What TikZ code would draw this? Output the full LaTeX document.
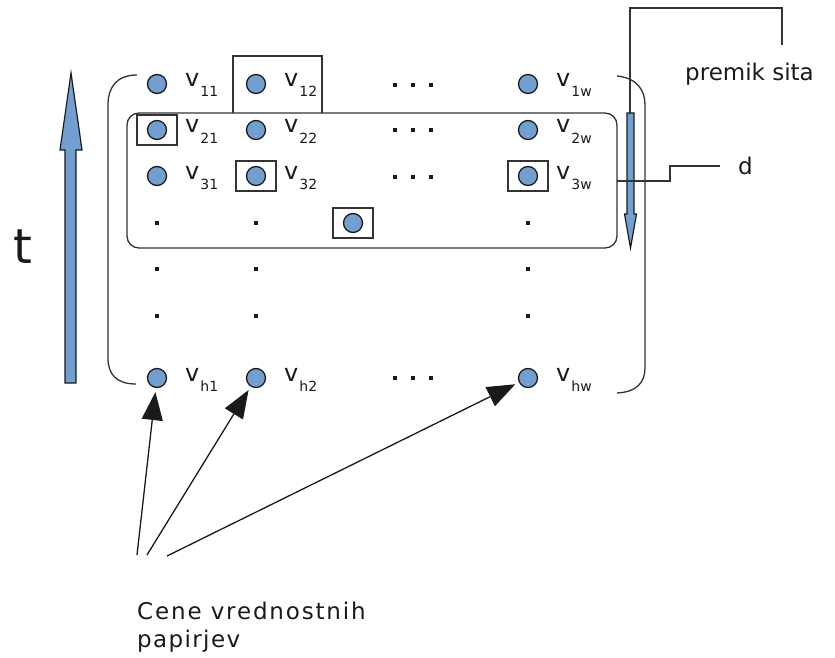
\documentclass[tikz,border=0pt]{standalone}
\usepackage{fontspec}
\setmainfont{DejaVu Sans}
\usetikzlibrary{arrows.meta}
\definecolor{ptblue}{HTML}{729FCF}
\definecolor{ink}{HTML}{1A1A1A}
\definecolor{frame}{HTML}{333333}

% variable name with a small index
\newcommand\vsub[1]{v\kern1pt\raisebox{-10pt}{\fontsize{14}{14}\selectfont #1}}

\begin{document}
\begin{tikzpicture}[x=1pt,y=-1pt,
  pt/.style={circle,draw=ink,fill=ptblue,line width=1.3pt,minimum size=19pt,inner sep=0pt},
  lab/.style={anchor=base west,inner sep=0pt,font=\fontsize{24}{26}\selectfont,text=ink},
  sq/.style={fill=ink,minimum size=4.5pt,inner sep=0pt},
  line/.style={draw=frame,line width=1.3pt},
  selbox/.style={line},
  blueshape/.style={draw=ink,fill=ptblue,line width=1.2pt,line join=miter},
  pointer/.style={draw=ink,line width=1.3pt,-{Triangle[length=28pt,width=21pt]},shorten >=4pt},
  txt/.style={inner sep=0pt,text=ink,font=\fontsize{23}{28}\selectfont}]
\useasboundingbox (0,0) rectangle (835,658);

% ---- matrix brackets
\draw[line] (137,75) .. controls (116,75) and (108,88) .. (108,105) -- (108,358)
  .. controls (108,374) and (116,384) .. (136,384);
\draw[line] (617,76) .. controls (637,78) and (645,90) .. (645,105) -- (645,368)
  .. controls (645,382) and (637,392) .. (617,393);

% ---- sliding window
\node[line,rounded corners=12pt,minimum width=490pt,minimum height=135pt,inner sep=0pt]
  (win) at (372,180.5) {};
\draw[line] (233,113) |- (322,56) -- (322,113);

% ---- matrix entries
\foreach \n/\x/\y in {11/157/84, 12/256/84, 1w/528/84,
                      21/157/130, 22/256/130, 2w/528/130,
                      31/157/176, 32/256/176, 3w/528/176,
                      h1/157/378, h2/256/378, hw/528/378}
  {\node[pt] (c\n) at (\x,\y) {};
   \node[lab] (l\n) at ([shift={(28,3)}]c\n.center) {\vsub{\n}};}
\node[pt] (cmid) at (353,223) {};

% ---- selected entries
\foreach \c in {c21,c32,c3w,cmid}
  \draw[selbox] ([shift={(-20,-15)}]\c.center) rectangle ([shift={(20,15)}]\c.center);

% ---- horizontal ellipses
\foreach \y [count=\i] in {85,130,177,378}
  \foreach \x [count=\j] in {395,413,431}
    \node[sq] (h\i\j) at (\x,\y) {};

% ---- vertical ellipses
\foreach \x [count=\j] in {157,256,528}
  \foreach \y [count=\i] in {223,269,316}
    \node[sq] (d\i\j) at (\x,\y) {};

% ---- time axis
\draw[blueshape] (65,383) -- (65,150) -- (60,150) -- (71,73) -- (82,150) -- (76,150)
  -- (76,383) -- cycle;
\node[inner sep=0pt,anchor=base west,text=ink,font=\fontsize{48}{50}\selectfont] (t) at (13,263) {t};

% ---- window shift
\node[txt,anchor=base west] (premik) at (685,81) {premik sita};
\coordinate (ptop) at (630,113);
\draw[line] (ptop) -- (630,8) -| (782,45);
\draw[blueshape] (627,113) -- (627,214) -- (624.5,214) -- (630.5,248) -- (636.5,214)
  -- (634,214) -- (634,113) -- cycle;

% ---- window depth
\node[txt,anchor=base west] (d) at (738,174) {d};
\coordinate (dstart) at (617,181);
\coordinate (dend) at (720,166);
\draw[line] (dstart) -- (670,181) |- (dend);

% ---- securities prices
\node[txt,anchor=base west,align=left] (cene) at (137,619)
  {\addfontfeature{LetterSpace=8}Cene vrednostnih};
\node[txt,anchor=base west] (pap) at (137,647) {\addfontfeature{LetterSpace=6}papirjev};
\coordinate (s1) at (137,555);
\coordinate (s2) at (147,555);
\coordinate (s3) at (167,556);
\draw[pointer] (s1) -- (ch1);
\draw[pointer] (s2) -- (ch2);
\draw[pointer] (s3) -- (chw);
\end{tikzpicture}
\end{document}
